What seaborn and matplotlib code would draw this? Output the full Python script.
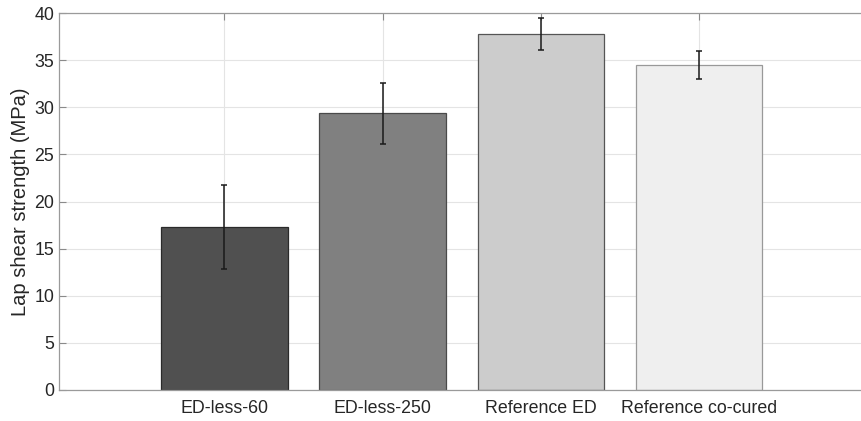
import matplotlib
matplotlib.use("Agg")
import matplotlib.pyplot as plt
import seaborn as sns
import pandas as pd

# Lap shear results per joint type
categories = ["ED-less-60", "ED-less-250", "Reference ED", "Reference co-cured"]
strength_mean = [17.3, 29.35, 37.8, 34.5]
strength_err = [4.5, 3.2, 1.7, 1.45]

bar_colors = ["#505050", "#808080", "#cccccc", "#efefef"]
edge_colors = ["#2a2a2a", "#4a4a4a", "#555555", "#999999"]

sns.set_theme(style="white")
plt.rcParams["font.family"] = ["Liberation Sans", "DejaVu Sans"]

df = pd.DataFrame({"joint": categories, "strength": strength_mean})

fig = plt.figure(figsize=(8.62, 4.21), dpi=100)
ax = fig.add_axes([59 / 862, 31 / 421, (862 - 59) / 862, 377 / 421])

sns.barplot(data=df, x="joint", y="strength", hue="joint", palette=bar_colors,
            order=categories, hue_order=categories, width=0.8, legend=False,
            errorbar=None, ax=ax, zorder=2, saturation=1)

for patch, ec in zip(ax.patches, edge_colors):
    patch.set_edgecolor(ec)
    patch.set_linewidth(0.9)

ax.errorbar(range(len(categories)), strength_mean, yerr=strength_err, fmt="none",
            ecolor="#1a1a1a", elinewidth=1.1, capsize=2.5, capthick=1.1, zorder=3)

ax.set_xlim(-1.045, 4.03)
ax.set_ylim(0, 40)
ax.set_yticks(range(0, 41, 5))
ax.set_xlabel("")
ax.set_ylabel("Lap shear strength (MPa)", fontsize=14.5, color="#262626", labelpad=3)

ax.grid(True, color="#e4e4e4", linewidth=0.8, zorder=0)
ax.set_axisbelow(True)

for side in ("top", "left", "bottom"):
    ax.spines[side].set_visible(True)
    ax.spines[side].set_color("#9a9a9a")
    ax.spines[side].set_linewidth(0.9)
ax.spines["right"].set_visible(False)

ax.tick_params(axis="both", direction="in", length=5, width=0.8, color="#8a8a8a",
               labelsize=12.8, labelcolor="#262626", top=True, bottom=True, left=True)
ax.tick_params(axis="x", pad=7)

fig.savefig("out.png", dpi=100)
